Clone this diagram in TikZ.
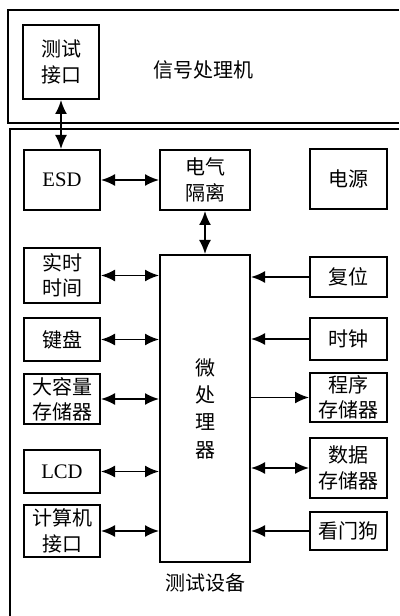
\documentclass[tikz,border=0pt]{standalone}
\usepackage{fontspec}
\setmainfont{Liberation Serif}
\newfontfamily\cjk{Noto Sans CJK SC}
\usetikzlibrary{arrows.meta}
\begin{document}
\begin{tikzpicture}[x=0.75pt,y=-0.75pt,
  box/.style={draw,line width=1.5pt,inner sep=0pt,align=center,font=\cjk\fontsize{15}{19}\selectfont},
  sz/.style 2 args={minimum width=#1*0.75pt,minimum height=#2*0.75pt},
  lat/.style={font=\fontsize{15.5}{19}\selectfont},
  plain/.style={font=\cjk\fontsize{15}{19}\selectfont},
  conn/.style={line width=1.4pt,-{Latex[length=10.5pt,width=9pt]}},
  bconn/.style={line width=1.4pt,{Latex[length=10.5pt,width=9pt]}-{Latex[length=10.5pt,width=9pt]}},
  frame/.style={line width=1.5pt}]
\useasboundingbox (0,0) rectangle (399,616);
\draw[frame] (399,10) -- (8,10) -- (8,123) -- (399,123);
\draw[frame] (399,129) -- (10,129) -- (10,616);

\node[box,sz={76}{74}] (ti) at (61,62) {测试\\接口};
\node[plain] (sp) at (203,70) {信号处理机};

\node[box,sz={76}{60},lat] (esd) at (62,180) {ESD};
\node[box,sz={90}{60}] (iso) at (205,180) {电气\\隔离};
\node[box,sz={77}{60}] (pwr) at (348.5,179) {电源};

\node[box,sz={90}{307},font=\cjk\fontsize{15}{20.5}\selectfont] (mp) at (205,408.5) {\raisebox{4.5pt}{\parbox{2em}{\centering 微\\处\\理\\器}}};

\node[box,sz={76}{55}] (rt) at (62,275.5) {实时\\时间};
\node[box,sz={76}{43}] (kb) at (62,339.5) {键盘};
\node[box,sz={76}{50}] (ms) at (62,399) {大容量\\存储器};
\node[box,sz={76}{43},lat] (lcd) at (62,471.5) {LCD};
\node[box,sz={76}{52}] (pc) at (62,531) {计算机\\接口};

\node[box,sz={77}{40}] (rs) at (348.5,277) {复位};
\node[box,sz={77}{42}] (ck) at (348.5,339) {时钟};
\node[box,sz={77}{49}] (pm) at (348.5,397.5) {程序\\存储器};
\node[box,sz={77}{60}] (dm) at (348.5,468) {数据\\存储器};
\node[box,sz={77}{38}] (wd) at (348.5,531) {看门狗};

\node[plain] (tl) at (205,583) {测试设备};

\draw[bconn] (ti.south) -- (ti.south |- esd.north);
\draw[bconn] (esd) -- (iso);
\draw[bconn] (iso) -- (mp);

\draw[bconn] (rt.east) -- (rt.east -| mp.west);
\draw[bconn] (kb.east) -- (kb.east -| mp.west);
\draw[bconn] (ms.east) -- (ms.east -| mp.west);
\draw[bconn] (lcd.east) -- (lcd.east -| mp.west);
\draw[bconn] (pc.east) -- (pc.east -| mp.west);

\draw[conn] (rs.west) -- (rs.west -| mp.east);
\draw[conn] (ck.west) -- (ck.west -| mp.east);
\draw[conn] (mp.east |- pm.west) -- (pm.west);
\draw[bconn] (mp.east |- dm.west) -- (dm.west);
\draw[conn] (wd.west) -- (wd.west -| mp.east);
\end{tikzpicture}
\end{document}
